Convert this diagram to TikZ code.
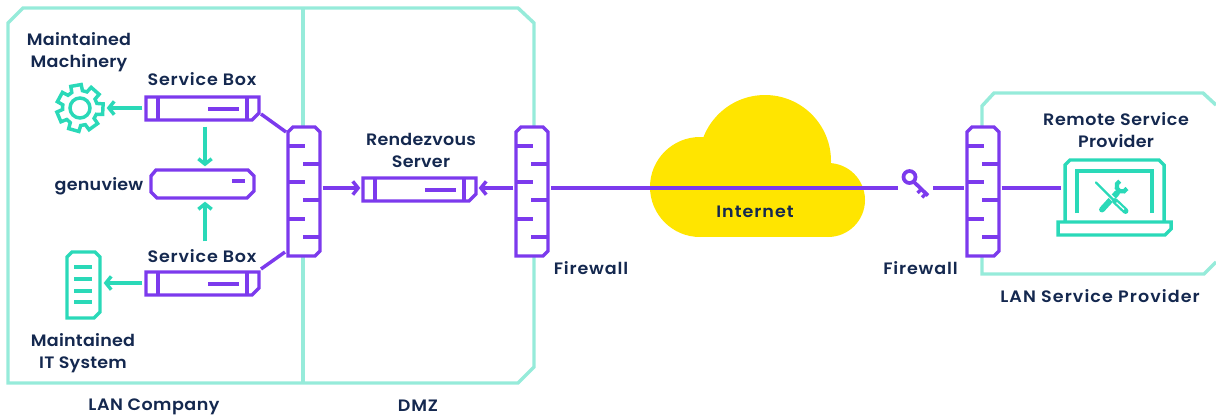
\documentclass[tikz,border=0pt]{standalone}
\usepackage{fontspec}
\setmainfont{Poppins}[UprightFont=* SemiBold,FakeStretch=1.06,LetterSpace=1.5]
\usetikzlibrary{arrows.meta,fit}
\definecolor{frameC}{HTML}{96EBDA}
\definecolor{tealC}{HTML}{2AD9B8}
\definecolor{purpC}{HTML}{7C3AED}
\definecolor{inkC}{HTML}{14284F}
\definecolor{cloudC}{HTML}{FFE500}
\newcommand{\holder}[5]{\path (#2,#3) coordinate (#1-a) (#4,#5) coordinate (#1-b); \node[fit=(#1-a)(#1-b),inner sep=0pt,outer sep=0pt] (#1) {};}
\newcommand{\serverbox}[3]{%
  \holder{#1}{#2}{#3}{#2+113}{#3+23}
  \draw[purp,fill=white] (#2,#3) -- (#2+113,#3) -- (#2+113,#3+16) -- (#2+106,#3+23) -- (#2,#3+23) -- cycle;
  \draw[purp] (#2+12,#3) -- (#2+12,#3+23) (#2+101,#3) -- (#2+101,#3+23) (#2+62,#3+12) -- (#2+93,#3+12);}
\newcommand{\firewall}[3]{%
  \holder{#1}{#2}{#3}{#2+32}{#3+129}
  \draw[purp,fill=white] (#2+5,#3) -- (#2+27,#3) -- (#2+32,#3+5) -- (#2+32,#3+124) -- (#2+27,#3+129) -- (#2,#3+129) -- (#2,#3+5) -- cycle;
  \foreach \t in {19,55,92}{\draw[purp] (#2,#3+\t) -- (#2+17,#3+\t);}
  \foreach \t in {37,73,110}{\draw[purp] (#2+15,#3+\t) -- (#2+32,#3+\t);}}
\newcommand{\lsp}[1]{\addfontfeature{LetterSpace=#1}}
\tikzset{
  purp/.style={draw=purpC,line width=2.6pt},
  tealline/.style={draw=tealC,line width=2.6pt},
  framel/.style={draw=frameC,line width=2.6pt},
  parrow/.style={purp,-{Straight Barb[length=4pt,width=10pt]}},
  tarrow/.style={tealline,-{Straight Barb[length=4pt,width=10pt]}},
  lab/.style={text=inkC,font=\fontsize{12.4pt}{16.5pt}\selectfont,align=center,inner sep=0pt,outer sep=0pt},
}
\begin{document}
\begin{tikzpicture}[x=0.75pt,y=-0.75pt]
\useasboundingbox (0,0) rectangle (1216,419);
% frames
\draw[framel] (8,23) -- (23,8) -- (518,8) -- (534,23) -- (534,367) -- (518,383) -- (8,383) -- cycle;
\draw[framel] (303,8) -- (303,383);
\draw[framel] (1216,105) -- (1203,93) -- (994,93) -- (982,106) -- (982,274) -- (1204,274) -- (1216,262);
% cloud
\holder{cloud}{648}{95}{865}{237}
\fill[cloudC] (700,187) circle[radius=50] (765,161) circle[radius=66] (828,200) circle[radius=37];
\fill[cloudC] (700,190) rectangle (828,237);
% servers
\serverbox{sbA}{146}{97}
\serverbox{sbB}{146}{272}
\serverbox{rv}{363}{178}
% genuview
\holder{gv}{150}{169}{255}{199}
\draw[purp] (156,170) -- (248,170) -- (254,176) -- (254,191) -- (247,198) -- (157,198) -- (151,192) -- (151,176) -- cycle;
\draw[purp] (232,181) -- (245,181);
% firewalls
\firewall{fwA}{288}{127}
\firewall{fwB}{516}{127}
\firewall{fwC}{967}{127}
% gear
\holder{gear}{56}{84}{104}{132}
\draw[tealline,line join=miter]
  ([shift={(80,108)}]260-18:17.5)
  \foreach \a in {260,311.4,2.9,54.3,105.7,157.1,208.6}{
   -- ([shift={(80,108)}]\a-18:17.5) -- ([shift={(80,108)}]\a-13:23.5) -- ([shift={(80,108)}]\a+13:23.5) -- ([shift={(80,108)}]\a+18:17.5)
  } -- cycle;
\draw[tealline] (80,108) circle[radius=10];
% IT system
\holder{it}{66}{251}{101}{319}
\draw[tealline] (72,252) -- (95,252) -- (100,257) -- (100,312) -- (94,318) -- (67,318) -- (67,257) -- cycle;
\foreach \y in {267,279,291,302}{\draw[tealline] (74,\y) -- (92,\y);}
% laptop
\holder{lap}{1064}{159}{1165}{222}
\draw[tealline] (1065,222) -- (1065,165) -- (1070,160) -- (1159,160) -- (1164,165) -- (1164,222);
\draw[tealline] (1058,222) -- (1171,222) -- (1171,229) -- (1165,235) -- (1058,235) -- cycle;
\draw[tealline] (1077,213) -- (1077,171) -- (1152,171) -- (1152,213);
% wrench
\draw[tealC,line width=4.4pt,line cap=round] (1102,209.5) -- (1117,193);
\draw[tealC,line width=3.2pt] (1127,188.5) arc[start angle=25,end angle=245,radius=5.5];
% screwdriver
\draw[white,line width=3.4pt] (1108,194) -- (1116,202);
\draw[tealC,line width=1.7pt,line cap=round] (1096,182.5) -- (1115,201.5);
\draw[tealC,line width=4.4pt,line cap=round] (1115,201) -- (1125.5,211);
\draw[white,line width=0.9pt] (1116.5,202.5) -- (1124,209.5);
% key
\holder{key}{899}{168}{933}{198}
\draw[purp,line width=2.8pt] (909.5,177) circle[radius=6];
\draw[purp,line width=2.8pt] (914,182) -- (928,195.5);
\draw[purp,line width=2.6pt] (921.5,189) -- (917.5,193) (926,193.5) -- (922,197.5);
% connectors
\coordinate (sbAout) at (261,114); \coordinate (fwAinT) at (286,132);
\coordinate (sbBout) at (261,269); \coordinate (fwAinB) at (285,252);
\draw[purp] (sbAout) -- (fwAinT);
\draw[purp] (sbBout) -- (fwAinB);
\draw[parrow,shorten <=2pt,shorten >=2pt] (fwA.east |- 0,188) -- (rv.west |- 0,188);
\draw[parrow,shorten <=2pt,shorten >=2pt] (fwB.west |- 0,188) -- (rv.east |- 0,188);
\draw[purp,shorten <=2.2pt,shorten >=0.5pt] (fwB.east |- 0,188) -- (key.west |- 0,188);
\draw[purp,shorten <=0pt,shorten >=2.2pt] (key.east |- 0,188) -- (fwC.west |- 0,188);
\draw[purp,shorten <=2pt,shorten >=2.2pt] (fwC.east |- 0,188) -- (lap.west |- 0,188);
\draw[tarrow,shorten <=3pt,shorten >=2pt] (sbA.west |- 0,108) -- (gear.east |- 0,108);
\draw[tarrow,shorten <=3pt,shorten >=2pt] (sbB.west |- 0,283) -- (it.east |- 0,283);
\draw[tarrow,shorten <=5pt,shorten >=2pt] (205,120) -- (205,169);
\draw[tarrow,shorten <=23pt,shorten >=2pt] (205,272) -- (205,199);
% labels
\node[lab] (t1) at (79,52) {Maintained\\Machinery};
\node[lab] (t2) at (202,79) {\lsp{5}Service Box};
\node[lab] (t3) at (99,186) {genuview};
\node[lab] (t4) at (202,256) {\lsp{5}Service Box};
\node[lab] (t5) at (83,353.5) {Maintained\\IT System};
\node[lab] (t6) at (154,407) {\lsp{3}LAN Company};
\node[lab] (t7) at (418,406) {\lsp{5}DMZ};
\node[lab] (t8) at (421,150.5) {Rendezvous\\Server};
\node[lab] (t9) at (591,268) {\lsp{5}Firewall};
\node[lab] (t10) at (920.5,268) {\lsp{5}Firewall};
\node[lab] (t11) at (755,212) {\lsp{6}Internet};
\node[lab] (t12) at (1116,130.5) {\lsp{3.5}Remote Service\\Provider};
\node[lab] (t13) at (1100,296) {\lsp{6.5}LAN Service Provider};
\end{tikzpicture}
\end{document}
